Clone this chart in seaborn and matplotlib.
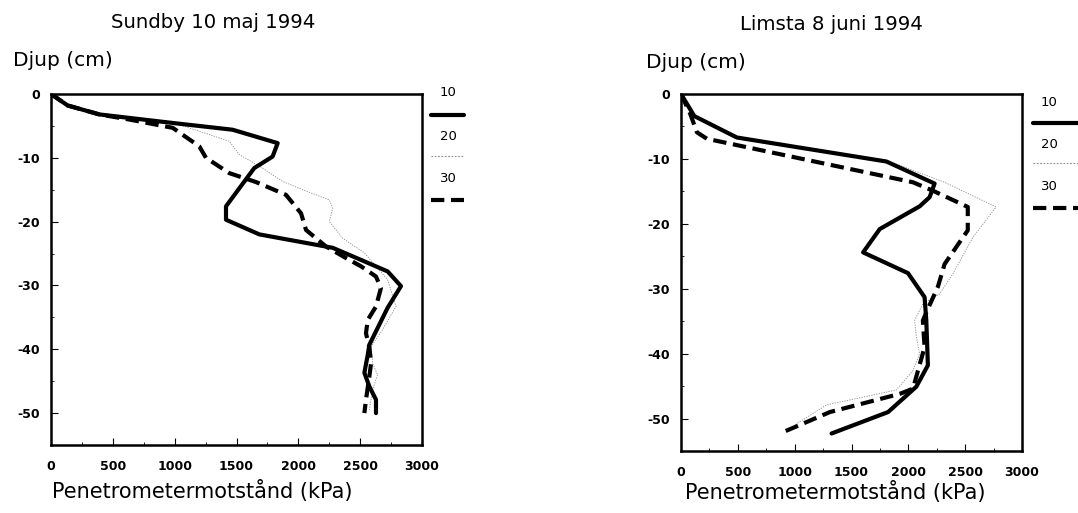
import numpy as np
import pandas as pd
import matplotlib
matplotlib.use("Agg")
import matplotlib.pyplot as plt
from matplotlib.lines import Line2D
from matplotlib.ticker import MultipleLocator
import seaborn as sns

# ---------------- data ----------------
titles = ["Sundby 10 maj 1994", "Limsta 8 juni 1994"]
ylabel = "Djup (cm)"
xlabel = "Penetrometermotstånd (kPa)"
legend_labels = ["10", "20", "30"]

# Sundby: (kPa, depth cm)
sundby_10_x = [0, 135, 391, 1011, 1469, 1833, 1792, 1644, 1415, 1415, 1685, 2278, 2507, 2722, 2830, 2722, 2574, 2561, 2534, 2574, 2628, 2628]
sundby_10_y = [0, -1.8, -3.2, -4.6, -5.6, -7.7, -9.8, -11.6, -17.6, -19.7, -22.0, -24.1, -26.0, -27.8, -30.1, -33.5, -39.3, -40.9, -43.7, -45.8, -47.9, -50.0]

sundby_20_x = [0, 135, 391, 1038, 1442, 1523, 1685, 1873, 2035, 2251, 2278, 2251, 2358, 2534, 2628, 2722, 2790, 2682, 2588, 2601, 2641, 2601, 2574]
sundby_20_y = [0, -1.8, -3.2, -4.8, -7.4, -9.5, -11.3, -13.7, -15.0, -16.6, -17.9, -20.0, -22.6, -24.9, -27.0, -29.1, -33.3, -36.9, -39.6, -42.2, -44.0, -46.3, -49.5]

sundby_30_x = [0, 135, 391, 633, 984, 1199, 1253, 1442, 1658, 1900, 2022, 2062, 2224, 2385, 2507, 2628, 2668, 2628, 2561, 2547, 2574, 2588, 2574, 2547, 2534]
sundby_30_y = [0, -1.8, -3.2, -4.0, -5.3, -8.2, -10.0, -12.4, -13.8, -15.8, -18.7, -21.3, -23.9, -25.7, -27.0, -28.6, -30.4, -33.3, -35.4, -37.5, -39.6, -42.2, -44.3, -47.9, -50.0]

# Limsta
limsta_10_x = [0, 117, 491, 1807, 2231, 2187, 2100, 1749, 1602, 1997, 2143, 2158, 2172, 2070, 1822, 1325]
limsta_10_y = [0, -3.4, -6.7, -10.4, -13.8, -15.9, -17.3, -20.8, -24.4, -27.6, -31.3, -34.9, -41.8, -45.1, -49.0, -52.3]

limsta_20_x = [0, 117, 491, 1807, 2319, 2772, 2567, 2392, 2275, 2128, 2055, 2070, 2099, 2041, 1895, 1281, 1000]
limsta_20_y = [0, -3.4, -6.6, -10.2, -13.6, -17.4, -22.1, -27.7, -30.8, -32.3, -34.9, -37.4, -40.0, -42.6, -45.6, -47.9, -51.0]

limsta_30_x = [0, 80, 140, 228, 2041, 2216, 2523, 2523, 2319, 2260, 2172, 2128, 2143, 2085, 2041, 1924, 1310, 871]
limsta_30_y = [0, -3.0, -5.9, -6.9, -13.6, -14.9, -17.4, -21.0, -26.2, -29.7, -33.1, -34.9, -39.0, -42.6, -45.4, -46.2, -49.0, -52.3]

xticks = [0, 500, 1000, 1500, 2000, 2500, 3000]
yticks = [0, -10, -20, -30, -40, -50]

# ---------------- style ----------------
sns.set_style("white")
plt.rcParams['font.family'] = ['DejaVu Sans']
plt.rcParams['axes.unicode_minus'] = False
plt.rcParams['text.color'] = 'black'
plt.rcParams['xtick.color'] = 'black'
plt.rcParams['ytick.color'] = 'black'

W, H = 1078, 513
fig = plt.figure(figsize=(W / 100, H / 100), dpi=100)

def px_rect(x0, x1, ytop, ybot):
    return [x0 / W, 1 - ybot / H, (x1 - x0) / W, (ybot - ytop) / H]

ax1 = fig.add_axes(px_rect(51, 422, 94, 445))
ax2 = fig.add_axes(px_rect(681, 1022, 94, 451))

styles = {
    "10": dict(color="black", linewidth=3.0, linestyle="-"),
    "20": dict(color="#8a8a8a", linewidth=0.6, linestyle=(0, (1.5, 1.5))),
    "30": dict(color="black", linewidth=3.0, linestyle=(0, (3.2, 1.6))),
}

panels = [
    (ax1, titles[0], [(sundby_20_x, sundby_20_y, "20"), (sundby_30_x, sundby_30_y, "30"), (sundby_10_x, sundby_10_y, "10")]),
    (ax2, titles[1], [(limsta_20_x, limsta_20_y, "20"), (limsta_30_x, limsta_30_y, "30"), (limsta_10_x, limsta_10_y, "10")]),
]

for ax, title, series in panels:
    for xs, ys, lab in series:
        df = pd.DataFrame({"kPa": xs, "djup": ys})
        sns.lineplot(data=df, x="kPa", y="djup", sort=False, estimator=None,
                     ax=ax, legend=False, **styles[lab])
    ax.set_xlim(0, 3000)
    ax.set_ylim(-55, 0)
    ax.set_xticks(xticks)
    ax.set_yticks(yticks)
    ax.xaxis.set_minor_locator(MultipleLocator(250))
    ax.yaxis.set_minor_locator(MultipleLocator(5))
    ax.tick_params(axis="both", which="both", direction="in", bottom=True, left=True,
                   top=False, right=False, colors="black")
    ax.tick_params(axis="both", which="major", length=5, width=0.8, labelsize=9)
    ax.tick_params(axis="both", which="minor", length=2.5, width=0.6)
    ax.tick_params(axis="x", which="major", pad=11)
    ax.tick_params(axis="y", which="major", pad=8)
    for lbl in ax.get_xticklabels() + ax.get_yticklabels():
        lbl.set_fontweight("bold")
    for sp in ax.spines.values():
        sp.set_visible(True)
        sp.set_color("black")
        sp.set_linewidth(1.8)
    ax.set_xlabel("")
    ax.set_ylabel("")

# titles and axis labels (figure pixel positions)
def ftext(x, y, s, **kw):
    fig.text(x / W, 1 - y / H, s, color="black", **kw)

ftext(213, 23, titles[0], ha="center", va="center", fontsize=14.2)
ftext(831, 25, titles[1], ha="center", va="center", fontsize=14.2)
ftext(13, 61, ylabel, ha="left", va="center", fontsize=14.5)
ftext(646, 62, ylabel, ha="left", va="center", fontsize=14.5)
ftext(52, 491, xlabel, ha="left", va="center", fontsize=15)
ftext(685, 492, xlabel, ha="left", va="center", fontsize=15)

# legends at the right of each panel
def legend_block(xc, x0, x1, ys_text, ys_line):
    for lab, yt, yl in zip(legend_labels, ys_text, ys_line):
        ftext(xc, yt, lab, ha="center", va="center", fontsize=9.5)
        st = dict(styles[lab])
        if lab == "20":
            st["linewidth"] = 0.8
        fig.add_artist(Line2D([x0 / W, x1 / W], [1 - yl / H, 1 - yl / H],
                              transform=fig.transFigure, **st))

legend_block(448, 431, 464, [93, 136, 179], [115, 156, 200])
legend_block(1049, 1033, 1080, [102, 144, 187], [123, 163, 208])

fig.savefig("out.png", dpi=100, facecolor="white")
